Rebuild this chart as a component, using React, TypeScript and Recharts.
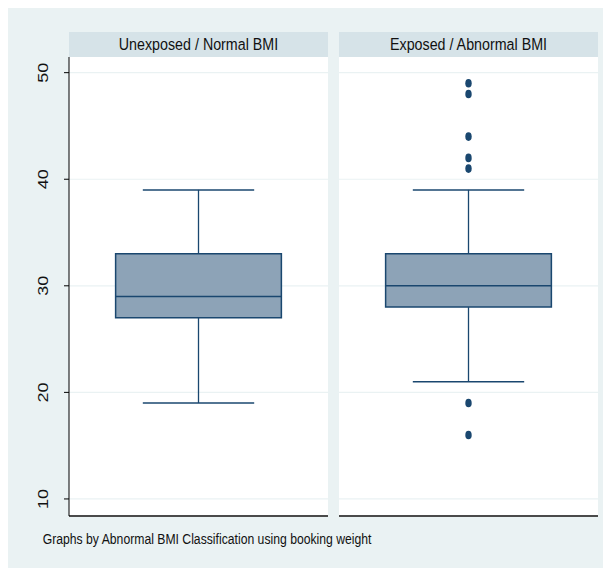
import React from 'react';
import { ComposedChart, XAxis, YAxis, CartesianGrid, ReferenceArea, ReferenceLine, Scatter } from 'recharts';

const panels = ["Unexposed / Normal BMI", "Exposed / Abnormal BMI"];
const lowerWhisker = [19, 21];
const q1 = [27, 28];
const median = [29, 30];
const q3 = [33, 33];
const upperWhisker = [39, 39];
const outliers: number[][] = [[], [49, 48, 44, 42, 41, 19, 16]];
const yTicks = [10, 20, 30, 40, 50];
const yDomain: [number, number] = [8.4, 51.47];
const note = "Graphs by Abnormal BMI Classification using booking weight";

const OUTER_BG = '#EAF2F3';
const HEADER_BG = '#D6E3E8';
const GRID = '#EAF2F3';
const NAVY = '#1A476F';
const BOX_FILL = '#8DA3B7';
const FONT = '"Liberation Sans", Arial, Helvetica, sans-serif';

const BOX_L = 0.18, BOX_R = 0.82, CAP_L = 0.285, CAP_R = 0.715, MID = 0.5;

const renderTick = (props: any) => {
  const { x, y, payload } = props;
  const bx = x - 14.5;
  return (
    <text
      transform={`translate(${bx},${y}) rotate(-90) scale(1.2,1)`}
      textAnchor="middle"
      fontSize={15}
      fontFamily={FONT}
      fill="#111"
    >
      {payload.value}
    </text>
  );
};

const Dot = (props: any) => {
  const { cx, cy } = props;
  return <ellipse cx={cx} cy={cy} rx={3.2} ry={4.3} fill={NAVY} />;
};

function Panel({ i, left, width, yAxisWidth }: { i: number; left: number; width: number; yAxisWidth: number }) {
  const pts = outliers[i].map((v) => ({ x: MID, y: v }));
  return (
    <div style={{ position: 'absolute', left, top: 52 }}>
      <ComposedChart width={width} height={469} margin={{ top: 0, right: 0, bottom: 0, left: 0 }}>
        <CartesianGrid vertical={false} horizontalValues={yTicks} stroke={GRID} strokeWidth={1.2} fill="#ffffff" />
        <XAxis
          type="number"
          dataKey="x"
          domain={[0, 1]}
          allowDataOverflow
          tick={false}
          tickLine={false}
          axisLine={{ stroke: '#4a4a4a', strokeWidth: 2 }}
          height={10}
        />
        <YAxis
          type="number"
          dataKey="y"
          domain={yDomain}
          ticks={yTicks}
          allowDataOverflow
          hide={yAxisWidth === 0}
          width={yAxisWidth}
          axisLine={{ stroke: '#000', strokeWidth: 1 }}
          tickLine={{ stroke: '#000' }}
          tickSize={5}
          tick={renderTick}
        />
        <ReferenceLine segment={[{ x: MID, y: q3[i] }, { x: MID, y: upperWhisker[i] }]} stroke={NAVY} strokeWidth={1.3} />
        <ReferenceLine segment={[{ x: MID, y: lowerWhisker[i] }, { x: MID, y: q1[i] }]} stroke={NAVY} strokeWidth={1.3} />
        <ReferenceLine segment={[{ x: CAP_L, y: upperWhisker[i] }, { x: CAP_R, y: upperWhisker[i] }]} stroke={NAVY} strokeWidth={1.5} />
        <ReferenceLine segment={[{ x: CAP_L, y: lowerWhisker[i] }, { x: CAP_R, y: lowerWhisker[i] }]} stroke={NAVY} strokeWidth={1.5} />
        <ReferenceArea x1={BOX_L} x2={BOX_R} y1={q1[i]} y2={q3[i]} fill={BOX_FILL} fillOpacity={1} stroke={NAVY} strokeWidth={1.5} />
        <ReferenceLine segment={[{ x: BOX_L, y: median[i] }, { x: BOX_R, y: median[i] }]} stroke={NAVY} strokeWidth={1.5} />
        <Scatter data={pts} dataKey="y" shape={<Dot />} isAnimationActive={false} />
      </ComposedChart>
    </div>
  );
}

function Header({ label, left, width }: { label: string; left: number; width: number }) {
  return (
    <svg style={{ position: 'absolute', left, top: 27 }} width={width} height={25}>
      <rect width={width} height={25} fill={HEADER_BG} />
      <text
        transform={`translate(${width / 2},17.5) scale(0.84,1)`}
        textAnchor="middle"
        fontFamily={FONT}
        fontSize={17}
        fill="#111"
      >
        {label}
      </text>
    </svg>
  );
}

export default function App() {
  return (
    <div style={{ position: 'relative', width: 603, height: 563, marginTop: -3, background: OUTER_BG }}>
      <Header label={panels[0]} left={61} width={259} />
      <Header label={panels[1]} left={331} width={259} />
      <Panel i={0} left={0} width={320} yAxisWidth={61} />
      <Panel i={1} left={331} width={259} yAxisWidth={0} />
      <svg style={{ position: 'absolute', left: 0, top: 520 }} width={603} height={40}>
        <text
          transform={`translate(34.7,18.5) scale(0.842,1)`}
          fontFamily={FONT}
          fontSize={14.5}
          fill="#111"
        >
          {note}
        </text>
      </svg>
    </div>
  );
}
